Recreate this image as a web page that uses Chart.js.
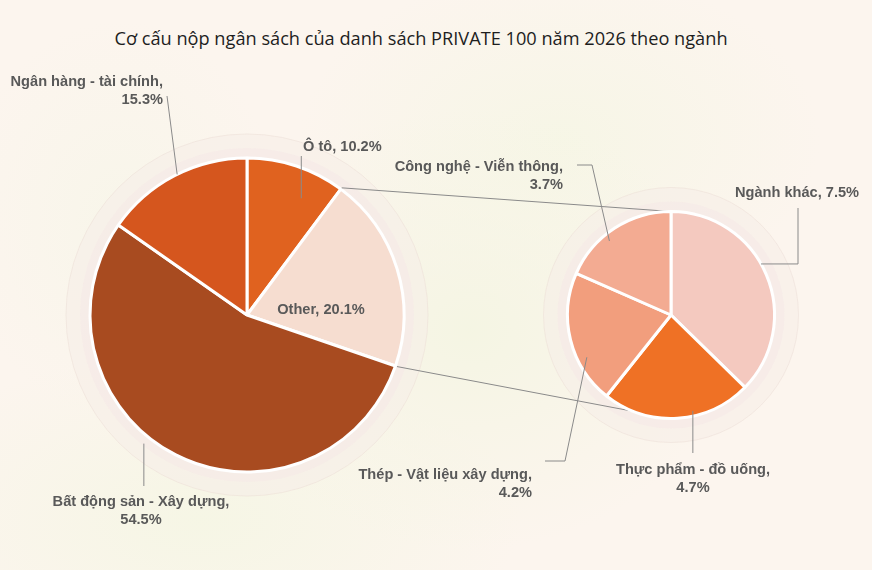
<!DOCTYPE html>
<html lang="vi">
<head>
<meta charset="utf-8">
<title>Cơ cấu nộp ngân sách PRIVATE 100</title>
<script src="https://cdn.jsdelivr.net/npm/chart.js@4.4.1/dist/chart.umd.min.js"></script>
<style>
  html, body { margin: 0; padding: 0; }
  body {
    width: 872px;
    height: 570px;
    overflow: hidden;
    position: relative;
    background:
      radial-gradient(ellipse 260px 220px at 470px 330px, rgba(244, 245, 226, 0.9), rgba(244, 245, 226, 0) 100%),
      radial-gradient(ellipse 320px 170px at 200px 520px, rgba(245, 246, 228, 0.9), rgba(245, 246, 228, 0) 100%),
      radial-gradient(ellipse 260px 170px at 560px 140px, rgba(245, 246, 228, 0.8), rgba(245, 246, 228, 0) 100%),
      radial-gradient(ellipse 160px 200px at 120px 220px, rgba(246, 246, 232, 0.7), rgba(246, 246, 232, 0) 100%),
      #fcf5ee;
  }
  canvas { position: absolute; left: 0; top: 0; }
  .title {
    position: absolute;
    left: 0;
    top: 26px;
    width: 842px;
    text-align: center;
    font-family: "Open Sans", sans-serif;
    font-size: 18.2px;
    color: #1e1e1e;
  }
</style>
</head>
<body>
<div class="title">Cơ cấu nộp ngân sách của danh sách PRIVATE 100 năm 2026 theo ngành</div>
<canvas id="mainPie" width="872" height="570"></canvas>
<canvas id="subPie" width="872" height="570"></canvas>
<script>
// main pie, clockwise from 12 o'clock
const mainLabels = ['Ô tô', 'Other', 'Bất động sản - Xây dựng', 'Ngân hàng - tài chính'];
const mainValues = [10.2, 20.1, 54.5, 15.3];
const mainColors = ['#e0621f', '#f6ddd0', '#a84b20', '#d5561e'];

// breakdown of "Other"
const subLabels = ['Ngành khác', 'Thực phẩm - đồ uống', 'Thép - Vật liệu xây dựng', 'Công nghệ - Viễn thông'];
const subValues = [7.5, 4.7, 4.2, 3.7];
const subColors = ['#f4c9bf', '#ef7125', '#f29e7d', '#f3ab92'];

const LABEL_FONT = 'bold 14.6px "Liberation Sans", Arial, sans-serif';
const LABEL_COLOR = '#595959';
const LEADER_COLOR = '#8a8a8a';

// where each label sits and how its leader runs (t = share along the slice, rf = share of radius)
const mainLabelLayout = [
  { split: false, x: 303, y: 147, align: 'left', t: 0.68, rf: 0.82, leader: e => [[e.x, 156]] },
  { split: false, x: 321, y: 310, align: 'center' },
  { split: true, x: 141, y: 502, align: 'center', t: 0.56, rf: 1.05, leader: e => [[e.x, 486]] },
  { split: true, x: 163, y: 82, align: 'right', t: 0.52, rf: 1.0, leader: e => [[167, 96]] }
];
const subLabelLayout = [
  { split: false, x: 797, y: 193, align: 'center', t: 0.45, rf: 1.0, leader: e => [[798, 208], [798, e.y]] },
  { split: true, x: 693, y: 470, align: 'center', t: 0.39, rf: 0.95, leader: e => [[e.x, 453]] },
  { split: true, x: 532, y: 475, align: 'right', t: 0.33, rf: 0.91, leader: e => [[545, 461], [565, 461]] },
  { split: true, x: 563, y: 167, align: 'right', t: 0.40, rf: 0.93, leader: e => [[577, 165], [592, 165]] }
];

function arcPoint(arc, t, rf) {
  const a = arc.startAngle + (arc.endAngle - arc.startAngle) * t;
  const r = arc.outerRadius * rf;
  return { x: arc.x + Math.cos(a) * r, y: arc.y + Math.sin(a) * r };
}

function fmt(v) {
  return v.toFixed(1) + '%';
}

function drawGlow(ctx, arc) {
  ctx.save();
  ctx.beginPath();
  ctx.arc(arc.x, arc.y, arc.outerRadius + 24, 0, Math.PI * 2);
  ctx.fillStyle = 'rgba(246, 236, 232, 0.55)';
  ctx.fill();
  ctx.strokeStyle = 'rgba(236, 222, 214, 0.5)';
  ctx.lineWidth = 1;
  ctx.stroke();
  ctx.beginPath();
  ctx.arc(arc.x, arc.y, arc.outerRadius + 10, 0, Math.PI * 2);
  ctx.fillStyle = 'rgba(245, 234, 230, 0.6)';
  ctx.fill();
  ctx.restore();
}

function drawLabels(chart, labels, values, layout) {
  const ctx = chart.ctx;
  const arcs = chart.getDatasetMeta(0).data;
  ctx.save();
  ctx.font = LABEL_FONT;
  ctx.fillStyle = LABEL_COLOR;
  ctx.strokeStyle = LEADER_COLOR;
  ctx.lineWidth = 1;
  ctx.textBaseline = 'middle';
  layout.forEach((l, i) => {
    if (l.leader) {
      const end = arcPoint(arcs[i], l.t, l.rf);
      const pts = l.leader(end).concat([[end.x, end.y]]);
      ctx.beginPath();
      pts.forEach((p, k) => (k ? ctx.lineTo(p[0], p[1]) : ctx.moveTo(p[0], p[1])));
      ctx.stroke();
    }
    ctx.textAlign = l.align;
    if (l.split) {
      ctx.fillText(labels[i] + ',', l.x, l.y);
      ctx.fillText(fmt(values[i]), l.x, l.y + 18);
    } else {
      ctx.fillText(labels[i] + ', ' + fmt(values[i]), l.x, l.y);
    }
  });
  ctx.restore();
}

function pieOptions(padding, radius) {
  return {
    responsive: false,
    animation: false,
    layout: { padding: padding },
    radius: radius,
    plugins: { legend: { display: false }, tooltip: { enabled: false } }
  };
}

const mainChart = new Chart(document.getElementById('mainPie'), {
  type: 'pie',
  data: {
    labels: mainLabels,
    datasets: [{
      data: mainValues,
      backgroundColor: mainColors,
      borderColor: '#ffffff',
      borderWidth: 3
    }]
  },
  options: pieOptions({ left: 77, right: 455, top: 145, bottom: 85 }, 157),
  plugins: [{
    id: 'mainDecor',
    beforeDatasetsDraw(chart) {
      drawGlow(chart.ctx, chart.getDatasetMeta(0).data[0]);
    },
    afterDatasetsDraw(chart) {
      drawLabels(chart, mainLabels, mainValues, mainLabelLayout);
    }
  }]
});

new Chart(document.getElementById('subPie'), {
  type: 'pie',
  data: {
    labels: subLabels,
    datasets: [{
      data: subValues,
      backgroundColor: subColors,
      borderColor: '#ffffff',
      borderWidth: 3
    }]
  },
  options: pieOptions({ left: 561, right: 91, top: 205, bottom: 145 }, 103.5),
  plugins: [{
    id: 'subDecor',
    beforeDatasetsDraw(chart) {
      const ctx = chart.ctx;
      const sub = chart.getDatasetMeta(0).data[0];
      drawGlow(ctx, sub);
      // connector lines from the "Other" slice to the top and bottom of this pie
      const other = mainChart.getDatasetMeta(0).data[1];
      const a = arcPoint(other, 0, 1.01);
      const b = arcPoint(other, 1, 1.01);
      ctx.save();
      ctx.strokeStyle = LEADER_COLOR;
      ctx.lineWidth = 1;
      ctx.beginPath();
      ctx.moveTo(a.x, a.y);
      ctx.lineTo(sub.x, sub.y - sub.outerRadius);
      ctx.moveTo(b.x, b.y);
      ctx.lineTo(sub.x, sub.y + sub.outerRadius);
      ctx.stroke();
      ctx.restore();
    },
    afterDatasetsDraw(chart) {
      drawLabels(chart, subLabels, subValues, subLabelLayout);
    }
  }]
});
</script>
</body>
</html>
